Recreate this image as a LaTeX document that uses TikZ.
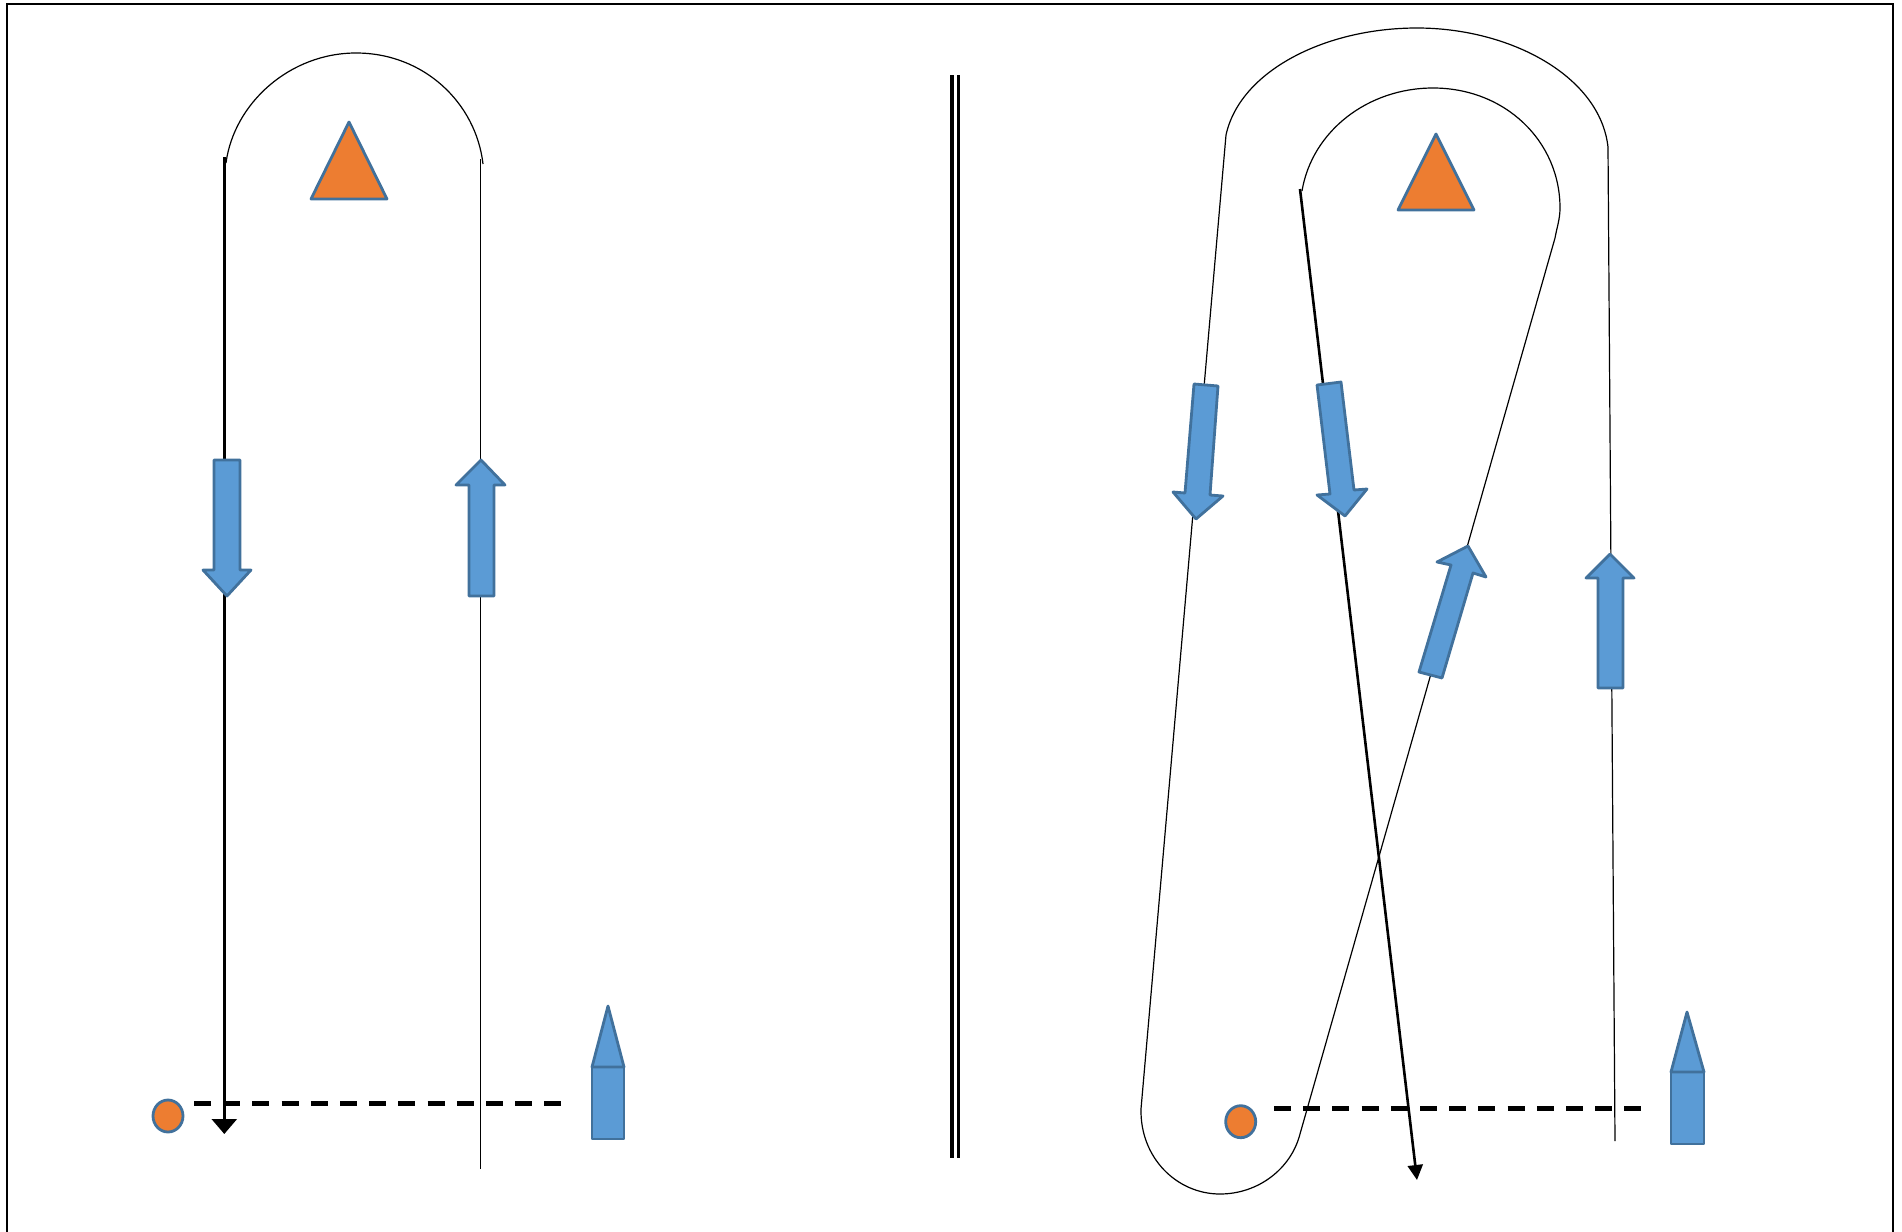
\documentclass[tikz,border=0pt]{standalone}
\usetikzlibrary{arrows.meta}
\definecolor{fillorange}{HTML}{ED7D31}
\definecolor{fillblue}{HTML}{5B9BD5}
\definecolor{edgeblue}{HTML}{41719C}
\tikzset{
  framerule/.style={black,line width=1.25pt},
  dividerrule/.style={black,line width=1.85pt},
  thinpath/.style={black,line width=0.6pt},
  heavypath/.style={black,line width=1.3pt},
  startline/.style={black,line width=2.5pt,dash pattern=on 8.5pt off 6.1pt},
  blueshape/.style={fill=fillblue,draw=edgeblue,line width=1.4pt,line join=round},
  orangeshape/.style={fill=fillorange,draw=edgeblue,line width=1.4pt,line join=round},
}
\begin{document}
\begin{tikzpicture}[x=0.5pt,y=-0.5pt]
\useasboundingbox (0,0) rectangle (1902,1232);
\clip (0,0) rectangle (1902,1232);
\begin{scope}[yshift=-0.5pt]
% frame
\coordinate (frameBL) at (7,1240);
\coordinate (frameTL) at (7,3);
\coordinate (frameTR) at (1893,3);
\coordinate (frameBR) at (1893,1240);
\draw[framerule] (frameBL) -- (frameTL) -- (frameTR) -- (frameBR);
% divider
\coordinate (divAtop) at (952,74);
\coordinate (divAbot) at (952,1157);
\coordinate (divBtop) at (958.6,74);
\coordinate (divBbot) at (958.6,1157);
\draw[dividerrule] (divAtop) -- (divAbot);
\draw[dividerrule] (divBtop) -- (divBbot);
% left panel
\coordinate (LthickTop) at (224.3,156);
\coordinate (LthickTip) at (224.3,1133);
\coordinate (LthinTop) at (480.7,158);
\coordinate (LthinBot) at (480.7,1168);
\coordinate (LarcA) at (226,162);
\coordinate (LarcTop) at (356,52);
\coordinate (LarcB) at (483,163);
\draw[thinpath] (LarcA) .. controls (234,102) and (290,52) .. (LarcTop)
  .. controls (424,52) and (476,102) .. (LarcB);
\draw[thinpath] (LthinTop) -- (LthinBot);
\draw[heavypath,-{Triangle[length=7.5pt,width=12.5pt]}] (LthickTop) -- (LthickTip);
\coordinate (LdashA) at (194,1102);
\coordinate (LdashB) at (561,1102);
\draw[startline] (LdashA) -- (LdashB);
\draw[orangeshape] (311,198) -- (349,121) -- (387,198) -- cycle;
\draw[orangeshape] (168,1115) ellipse [x radius=15,y radius=16];
\draw[blueshape] (592,1066) rectangle (624,1138);
\draw[blueshape] (592,1066) -- (608,1005) -- (624,1066) -- cycle;
\draw[blueshape] (214,459) -- (240,459) -- (240,569) -- (251,569) -- (227,595) -- (203,569) -- (214,569) -- cycle;
\draw[blueshape] (469,595) -- (494,595) -- (494,484) -- (505,484) -- (481,459) -- (456,484) -- (469,484) -- cycle;
% right panel
\coordinate (RouterTL) at (1226,134);
\coordinate (RouterTop) at (1417,27);
\coordinate (RouterTR) at (1608,146);
\coordinate (RrightBot) at (1615,1140);
\coordinate (RleftBot) at (1141,1108);
\coordinate (RloopBot) at (1220,1193);
\coordinate (RloopEnd) at (1300,1133);
\coordinate (RinnerEnd) at (1555,237);
\coordinate (RinnerRight) at (1560,207);
\coordinate (RinnerTop) at (1433,87);
\coordinate (RinnerLeft) at (1302,190);
\coordinate (RthickTop) at (1300,188);
\coordinate (RthickTip) at (1417,1179);
\draw[thinpath] (RrightBot) -- (RouterTR)
  .. controls (1600,75) and (1510,27) .. (RouterTop)
  .. controls (1325,27) and (1240,70) .. (RouterTL)
  -- (RleftBot)
  .. controls (1140,1157) and (1177,1193) .. (RloopBot)
  .. controls (1258,1193) and (1291,1168) .. (RloopEnd)
  -- (RinnerEnd)
  .. controls (1557,226) and (1560,218) .. (RinnerRight)
  .. controls (1560,140) and (1505,87) .. (RinnerTop)
  .. controls (1368,87) and (1312,130) .. (RinnerLeft);
\draw[heavypath,-{Triangle[length=7.5pt,width=7.5pt]}] (RthickTop) -- (RthickTip);
\coordinate (RdashA) at (1274,1107);
\coordinate (RdashB) at (1641,1107);
\draw[startline] (RdashA) -- (RdashB);
\draw[orangeshape] (1398,209) -- (1436,133) -- (1474,209) -- cycle;
\draw[orangeshape] (1240.7,1120.7) ellipse [x radius=15,y radius=16];
\draw[blueshape] (1671,1071) rectangle (1704,1143);
\draw[blueshape] (1671,1071) -- (1687,1011) -- (1704,1071) -- cycle;
\draw[blueshape] (1194,383) -- (1218,385) -- (1210,494) -- (1223,495) -- (1196,518) -- (1173,491) -- (1185,492) -- cycle;
\draw[blueshape] (1317,384) -- (1341,381) -- (1354,489) -- (1367,488) -- (1345,515) -- (1317,494) -- (1330,493) -- cycle;
\draw[blueshape] (1419,671) -- (1442,677) -- (1473,572) -- (1486,576) -- (1468,545) -- (1437,561) -- (1451,564) -- cycle;
\draw[blueshape] (1598,687) -- (1623,687) -- (1623,577) -- (1634,577) -- (1610,553) -- (1586,577) -- (1598,577) -- cycle;
\end{scope}
\end{tikzpicture}
\end{document}
